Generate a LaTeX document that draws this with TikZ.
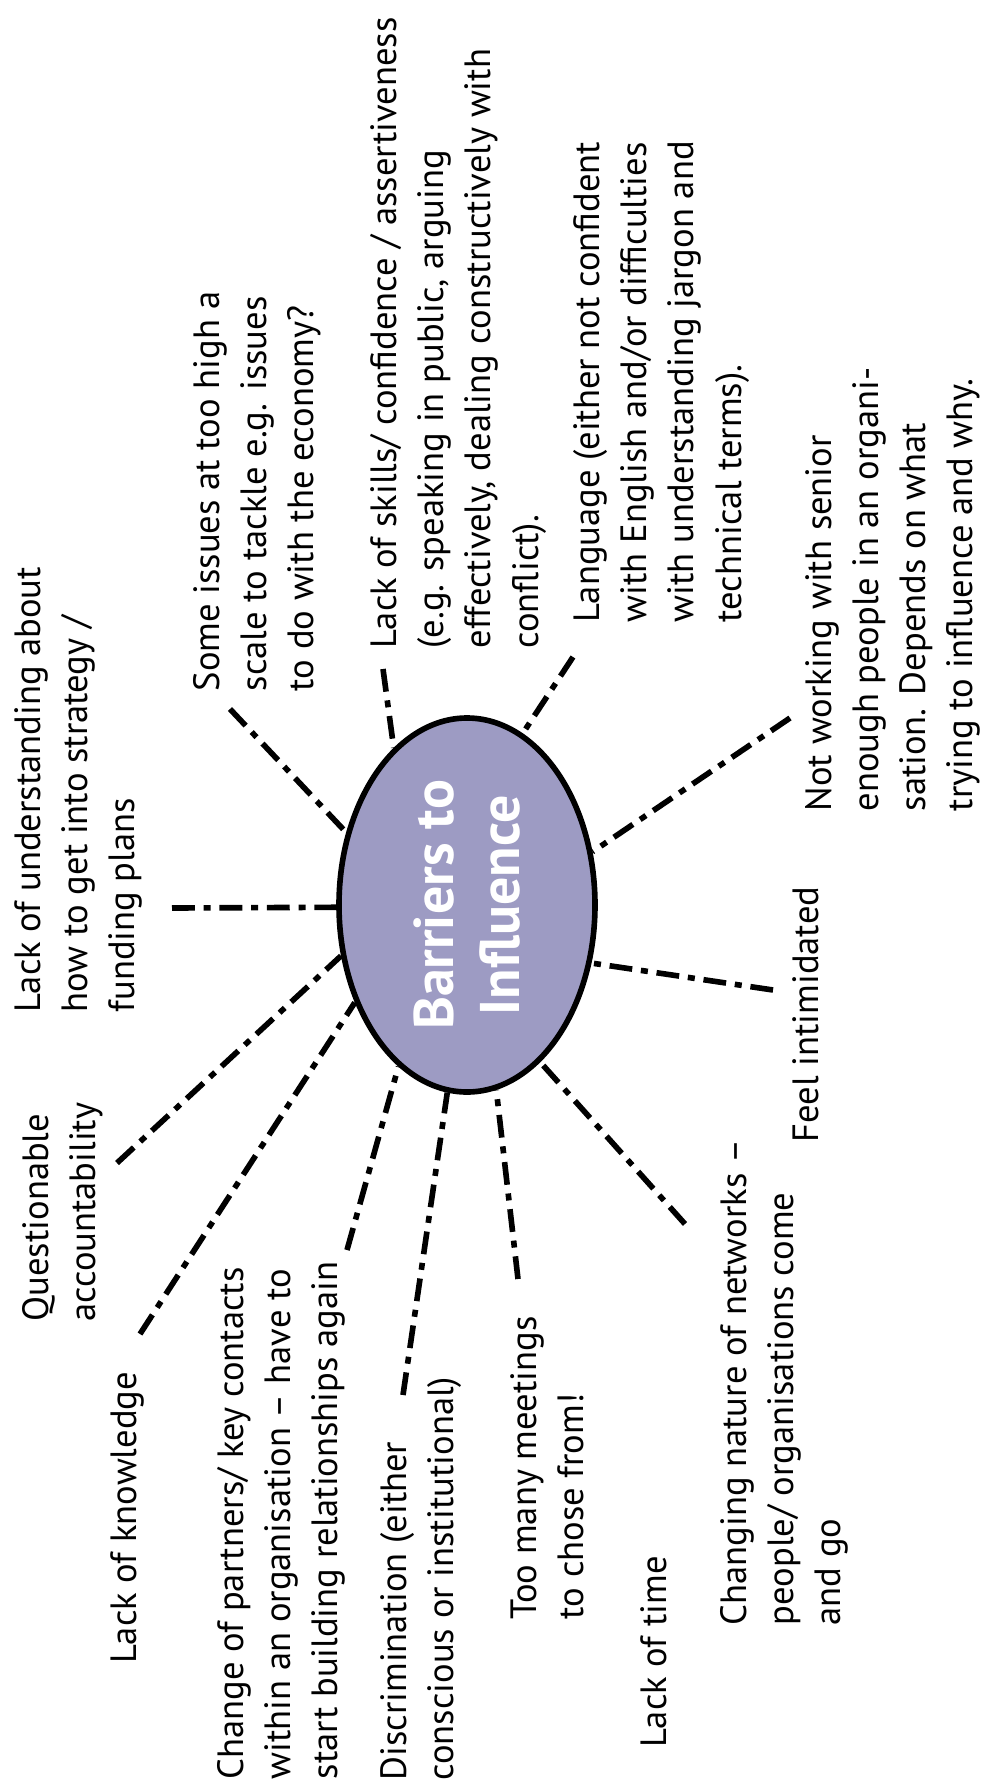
\documentclass[tikz,border=0pt]{standalone}
\usepackage{fontspec}
\setmainfont{PT Sans}
\usetikzlibrary{shapes.geometric}
\definecolor{bubblefill}{RGB}{157,155,195}
\tikzset{
  barrier/.style={rotate=90, anchor=north west, align=left, inner sep=0pt,
    font=\fontsize{10.4pt}{13.4pt}\selectfont},
  link/.style={line width=1.6pt, dash pattern=on 6.5pt off 2.5pt on 2pt off 2.5pt}
}
\begin{document}
\begin{tikzpicture}
    \useasboundingbox (0,0) rectangle (9.8,-17.87);
    % the bubble in the middle
    \node[ellipse, draw, line width=1.6pt, fill=bubblefill, inner sep=0pt,
      minimum width=2.56cm, minimum height=3.74cm] (bub) at (4.67,-9.05) {};
    \node[rotate=90, align=center, text=white,
      font=\bfseries\fontsize{15.9pt}{19pt}\selectfont] (bubtext) at (bub.center) {Barriers to\\Influence};
    % the barriers, read from bottom to top
    \node[barrier] (understanding) at (0.14,-10.13) {Lack of understanding about\\how to get into strategy /\\funding plans};
    \node[barrier] (scale) at (1.93,-6.92) {Some issues at too high a\\scale to tackle e.g. issues\\to do with the economy?};
    \node[barrier] (skills) at (3.70,-6.49) {Lack of skills/ confidence / assertiveness\\(e.g. speaking in public, arguing\\effectively, dealing constructively with\\conflict).};
    \node[barrier] (language) at (5.73,-6.23) {Language (either not confident\\with English and/or difficulties\\with understanding jargon and\\technical terms).};
    \node[barrier] (senior) at (8.05,-8.12) {Not working with senior\\enough people in an organi-\\sation.  Depends on what\\trying to influence and why.};
    \node[barrier] (intimidated) at (7.92,-11.43) {Feel intimidated};
    \node[barrier] (networks) at (7.20,-16.26) {Changing nature of networks –\\people/ organisations come\\and go};
    \node[barrier] (meetings) at (5.10,-16.20) {Too many meetings\\to chose from!};
    \node[barrier] (time) at (6.40,-17.48) {Lack of time};
    \node[barrier] (discrimination) at (3.80,-17.81) {Discrimination (either\\conscious or institutional)};
    \node[barrier] (partners) at (2.17,-17.80) {Change of partners/ key contacts\\within an organisation – have to\\start building relationships again};
    \node[barrier] (knowledge) at (1.10,-16.64) {Lack of knowledge};
    \node[barrier] (accountability) at (0.22,-13.22) {Questionable\\accountability};
    % free ends of the links
    \coordinate (understandingend) at (1.72,-9.08);
    \coordinate (scaleend) at (2.30,-7.09);
    \coordinate (skillsend) at (3.83,-6.69);
    \coordinate (languageend) at (5.73,-6.57);
    \coordinate (seniorend) at (7.90,-7.18);
    \coordinate (intimidatedend) at (7.73,-9.90);
    \coordinate (networksend) at (6.85,-12.24);
    \coordinate (meetingsend) at (5.18,-12.79);
    \coordinate (discriminationend) at (4.03,-13.95);
    \coordinate (partnersend) at (3.47,-12.50);
    \coordinate (knowledgeend) at (1.40,-13.34);
    \coordinate (accountabilityend) at (1.17,-11.63);
    \foreach \e/\a in {understanding/181,scale/149,skills/115,language/72,senior/23,intimidated/-25,
      networks/-65,meetings/-81,discrimination/264,partners/247,knowledge/221,accountability/202}
      \draw[link] (\e end) -- (bub.\a);
\end{tikzpicture}
\end{document}
